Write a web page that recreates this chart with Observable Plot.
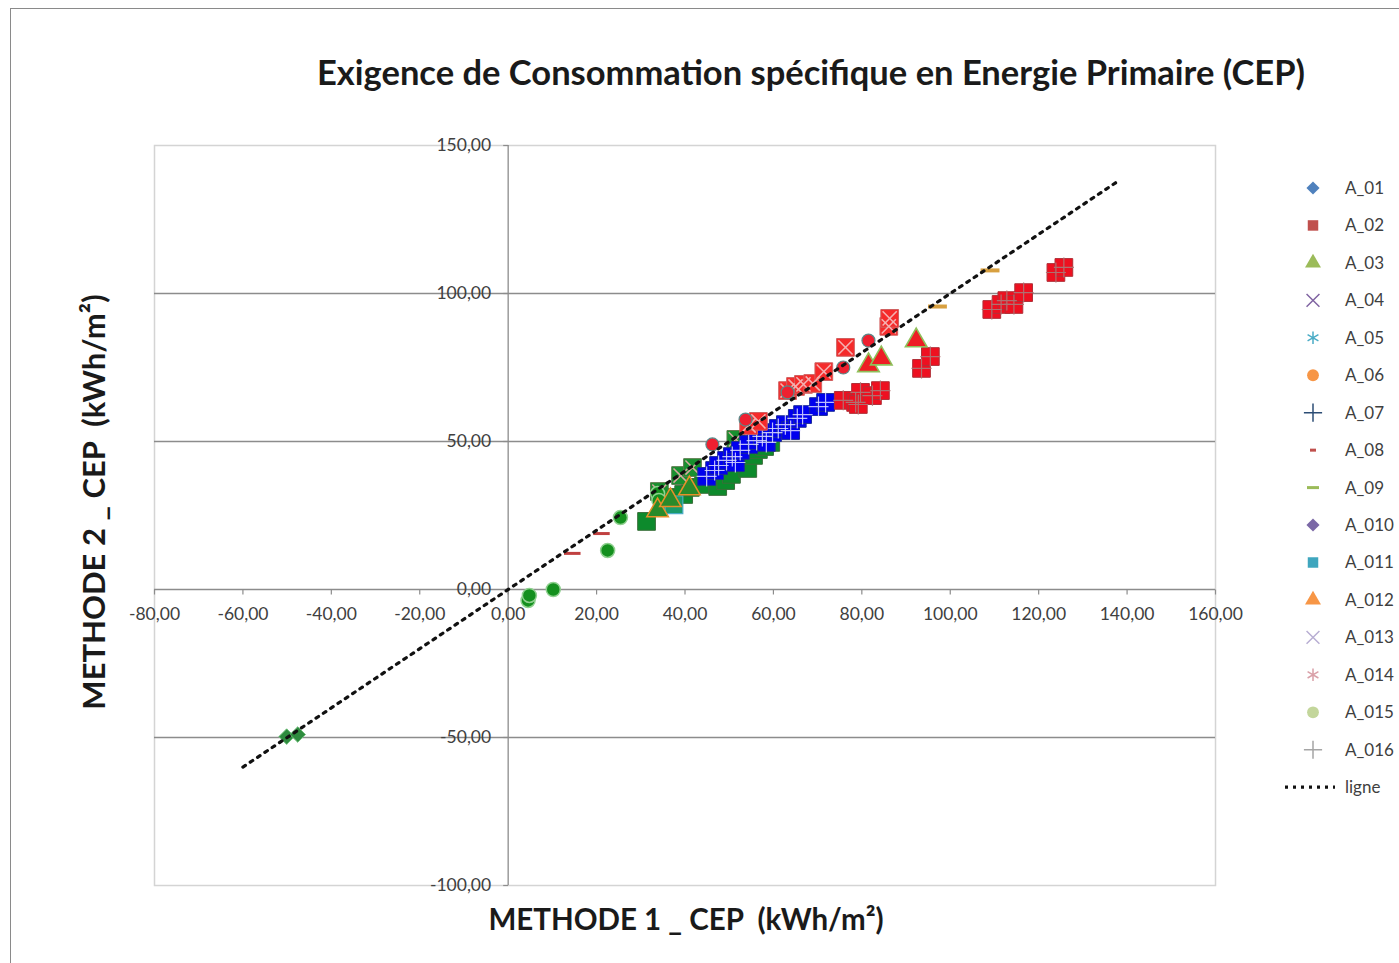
<!DOCTYPE html>
<html><head><meta charset="utf-8">
<script src="https://cdn.jsdelivr.net/npm/d3@7"></script>
<script src="https://cdn.jsdelivr.net/npm/@observablehq/plot@0.6"></script>
<style>
body{margin:0;background:#fff;font-family:Lato,"Open Sans",sans-serif;}
#wrap{position:relative;width:1399px;height:963px;overflow:hidden;}
#frame{position:absolute;left:10px;top:8px;width:1500px;height:1000px;border-left:1.5px solid #8a8a8a;border-top:1.5px solid #8a8a8a;}
#title{position:absolute;left:0;width:1622px;top:51px;text-align:center;font-weight:700;font-size:34.5px;color:#1a1a1a;}
#xtitle{position:absolute;left:386px;width:600px;top:901px;text-align:center;font-weight:700;font-size:29.5px;color:#1a1a1a;white-space:nowrap;}
#ytitle{position:absolute;left:93px;top:502px;transform:translate(-50%,-50%) rotate(-90deg);font-weight:700;font-size:31px;color:#1a1a1a;white-space:nowrap;}
#chart{position:absolute;left:0;top:0;}
#legend{position:absolute;left:0;top:0;}
</style></head><body>
<div id="wrap">
<div id="frame"></div>
<div id="chart"></div>
<div id="title">Exigence de Consommation spécifique en Energie Primaire (CEP)</div>
<div id="ytitle">METHODE 2 _ CEP&nbsp;&nbsp;(kWh/m²)</div>
<div id="xtitle">METHODE 1 _ CEP&nbsp;&nbsp;(kWh/m²)</div>
<svg id="legend" width="1399" height="963"></svg>
</div>
<script>
// ---- data (METHODE 1 CEP, METHODE 2 CEP) ----
const xTicks = [-80,-60,-40,-20,0,20,40,60,80,100,120,140,160];
const yTicks = [-100,-50,0,50,100,150];
const gridY = [100,50,-50];
const lineX = [-60, 138];

const greenDiamonds = [[-50.1,-49.7],[-47.6,-49.0]];
const greenCircles = [[4.5,-3.7],[4.8,-2.0],[10.2,0.0],[22.5,13.2],[25.4,24.3],[33.8,32.4],[34.1,30.1]];
const greenSquares = [[31.3,23.0],[36.7,31.1],[39.7,32.1],[41.2,34.5],[44.2,35.5],[47.4,34.8],[49.2,36.8],[50.5,38.9],[54.2,40.9],[55.5,45.3],[56.6,47.3],[58.0,48.3],[59.4,49.7]];
const tealSquares = [[34.9,30.1],[37.5,28.6]];
const greenCrossSquares = [[34.2,33.1],[39.0,38.5],[41.7,41.2],[51.5,50.7]];
const greenTriangles = [[33.8,26.7],[36.7,30.1],[41.0,34.1]];
const blueSquares = [[44.9,38.2],[46.7,40.2],[47.6,41.9],[49.4,43.6],[50.7,44.9],[51.4,42.9],[52.5,47.0],[54.4,49.0],[56.2,50.3],[57.5,51.7],[58.4,49.7],[59.8,53.0],[61.1,54.4],[62.7,55.7],[63.9,53.7],[65.4,57.8],[66.6,59.1],[70.2,61.8],[71.8,63.2]];
const redSquares = [[75.8,63.9],[78.6,63.2],[79.7,66.6],[79.2,62.5],[82.4,65.5],[84.2,67.2],[93.5,74.7],[95.5,78.7],[109.4,94.6],[111.5,96.3],[112.8,97.6],[114.4,96.3],[116.6,100.3],[123.9,107.1],[125.7,108.8]];
const redCrossSquares = [[54.4,55.4],[56.6,56.8],[63.2,67.2],[65.0,68.6],[66.8,69.3],[68.9,69.6],[71.4,73.6],[76.3,81.8],[86.1,88.9],[86.3,91.6]];
const redDiamonds = [[46.2,49.0],[53.7,57.4],[63.2,66.6],[75.8,75.0],[81.5,84.1]];
const redTriangles = [[81.5,75.7],[84.4,78.0],[92.3,84.1]];
const redDashes = [[14.5,12.2],[21.1,18.9]];
const orangeDashes = [[97.1,95.6],[109.0,107.8]];

const legendNames = ["A_01","A_02","A_03","A_04","A_05","A_06","A_07","A_08","A_09","A_010","A_011","A_012","A_013","A_014","A_015","A_016"];
const legendColors = ["#4F81BD","#C0504D","#9BBB59","#8064A2","#4BACC6","#F79646","#2C4D75","#C0504D","#9BBB59","#7B68A6","#3FA6BE","#F79646","#B8AED3","#D9A0A8","#C3D69B","#A5A5A5"];
const legendShapes = ["diamond","square","triangle","times","asterisk","circle","plus","dash","longdash","diamond","square","triangle","times","asterisk","circle","plus"];

const fmt = v => v.toFixed(2).replace(".", ",");
const tickDown = {draw(ctx){ctx.moveTo(0,0);ctx.lineTo(0,5);}};
const tickLeft = {draw(ctx){ctx.moveTo(0,0);ctx.lineTo(-5,0);}};
const dash = {draw(ctx, size){const w=Math.sqrt(size)/1.5;ctx.moveTo(-w,0);ctx.lineTo(w,0);}};
const X = d=>d[0], Y = d=>d[1];

const chart = Plot.plot({
  width: 1399, height: 963,
  marginLeft: 154, marginRight: 184, marginTop: 145, marginBottom: 78,
  x: {domain: [-80,160], axis: null},
  y: {domain: [-100,150], axis: null},
  style: {fontFamily: "Lato, 'Open Sans', sans-serif", background: "transparent"},
  marks: [
    Plot.frame({stroke: "#d4d4d4", strokeWidth: 1.5}),
    Plot.ruleY(gridY, {stroke: "#8c8c8c", strokeWidth: 1.3}),
    Plot.ruleY([0], {stroke: "#8c8c8c", strokeWidth: 1.3}),
    Plot.ruleX([0], {stroke: "#8c8c8c", strokeWidth: 1.3}),
    Plot.dot(xTicks, {x: d=>d, y: 0, symbol: tickDown, stroke: "#8c8c8c", strokeWidth: 1.2}),
    Plot.dot(yTicks, {x: 0, y: d=>d, symbol: tickLeft, stroke: "#8c8c8c", strokeWidth: 1.2}),
    Plot.text(xTicks, {x: d=>d, y: 0, text: fmt, dy: 25, fontSize: 17.5, fill: "#404040"}),
    Plot.text(yTicks, {x: 0, y: d=>d, text: fmt, dx: -17, textAnchor: "end", fontSize: 17.5, fill: "#404040"}),
    // points
    Plot.dot(greenDiamonds, {x: X, y: Y, symbol: "diamond2", r: 7, fill: "#2e8b3e", stroke: "#6fbf7a", strokeWidth: 1}),
    Plot.dot(greenSquares, {x: X, y: Y, symbol: "square", r: 10, fill: "#0d8a2c", stroke: "#3a6e3a", strokeWidth: 1}),
    Plot.dot(tealSquares, {x: X, y: Y, symbol: "square", r: 10, fill: "#1a9a6a", stroke: "#4bacc6", strokeWidth: 1.2}),
    Plot.dot(greenCrossSquares, {x: X, y: Y, symbol: "square", r: 10, fill: "#17902e", stroke: "#5a7a4a", strokeWidth: 1}),
    Plot.dot(greenCrossSquares, {x: X, y: Y, symbol: "times", r: 6.5, stroke: "#d8a7a0", strokeWidth: 1.5}),
    Plot.dot(greenCircles, {x: X, y: Y, symbol: "circle", r: 7, fill: "#14901e", stroke: "#8fd08f", strokeWidth: 1.5}),
    Plot.dot(greenTriangles, {x: X, y: Y, symbol: "triangle", r: 8, fill: "#2a8a2a", stroke: "#e8902a", strokeWidth: 1.5}),
    Plot.dot(blueSquares, {x: X, y: Y, symbol: "square", r: 10, fill: "#0000ee", stroke: "#1a2a9a", strokeWidth: 1}),
    Plot.dot(blueSquares, {x: X, y: Y, symbol: "plus", r: 6.5, stroke: "#dcdcff", strokeWidth: 1.2, strokeOpacity: 0.85}),
    Plot.dot(redSquares, {x: X, y: Y, symbol: "square", r: 10, fill: "#ee1020", stroke: "#b03038", strokeWidth: 1}),
    Plot.dot(redSquares, {x: X, y: Y, symbol: "plus", r: 6.5, stroke: "#b07070", strokeWidth: 1.2}),
    Plot.dot(redCrossSquares, {x: X, y: Y, symbol: "square", r: 10, fill: "#f52a2a", stroke: "#d06060", strokeWidth: 1}),
    Plot.dot(redCrossSquares, {x: X, y: Y, symbol: "times", r: 6.5, stroke: "#f4b0b0", strokeWidth: 1.6}),
    Plot.dot(redDiamonds, {x: X, y: Y, symbol: "circle", r: 6.5, fill: "#ee2030", stroke: "#5a8a8a", strokeWidth: 1.2}),
    Plot.dot(redTriangles, {x: X, y: Y, symbol: "triangle", r: 8, fill: "#ee1c24", stroke: "#8fbf5a", strokeWidth: 1.6}),
    Plot.dot(redDashes, {x: X, y: Y, symbol: dash, r: 7, stroke: "#c04040", strokeWidth: 3}),
    Plot.dot(orangeDashes, {x: X, y: Y, symbol: dash, r: 8, stroke: "#d8a040", strokeWidth: 4}),
    Plot.line(lineX, {x: d=>d, y: d=>d, stroke: "#111", strokeWidth: 3.2, strokeDasharray: "3 5.8"})
  ]
});
document.getElementById("chart").appendChild(chart);

// legend
const leg = d3.select("#legend");
legendNames.forEach((name, i) => {
  const cy = 188 + i * 37.45, cx = 1313;
  const c = legendColors[i], s = legendShapes[i];
  const g = leg.append("g").attr("transform", `translate(${cx},${cy})`);
  if (s === "dash") g.append("line").attr("x1",-3).attr("x2",3).attr("stroke",c).attr("stroke-width",3);
  else if (s === "longdash") g.append("line").attr("x1",-6).attr("x2",6).attr("stroke",c).attr("stroke-width",3);
  else {
    const map = {diamond: d3.symbolDiamond2, square: d3.symbolSquare, triangle: d3.symbolTriangle, circle: d3.symbolCircle, times: d3.symbolTimes, asterisk: d3.symbolAsterisk, plus: d3.symbolPlus};
    const stroked = (s === "times" || s === "asterisk" || s === "plus");
    g.append("path").attr("d", d3.symbol(map[s], stroked ? 110 : 110)())
      .attr("fill", stroked ? "none" : c).attr("stroke", stroked ? c : "none").attr("stroke-width", 1.5);
  }
  leg.append("text").attr("x", 1345).attr("y", cy).attr("dy","0.35em")
    .attr("font-size", 17).attr("fill", "#404040").attr("font-family","Lato, 'Open Sans', sans-serif").text(name);
});
const ly = 188 + 16 * 37.45;
leg.append("line").attr("x1",1285).attr("x2",1335).attr("y1",ly).attr("y2",ly)
  .attr("stroke","#111").attr("stroke-width",3.2).attr("stroke-dasharray","3 5");
leg.append("text").attr("x",1345).attr("y",ly).attr("dy","0.35em").attr("font-size",17)
  .attr("fill","#404040").attr("font-family","Lato, 'Open Sans', sans-serif").text("ligne");
</script>
</body></html>
